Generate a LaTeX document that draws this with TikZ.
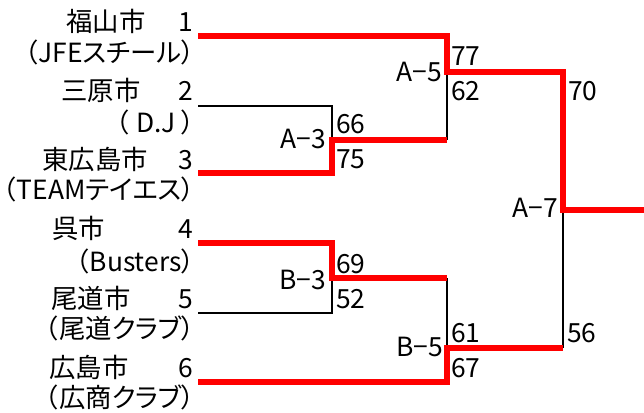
\documentclass[tikz,border=0pt]{standalone}
\usepackage{fontspec}
\setmainfont{Noto Sans CJK JP}[RawFeature=+palt]
\newfontfamily\fwfont{Noto Sans CJK JP}
\newcommand{\LPar}{{\fwfont （}}
\begin{document}
\begin{tikzpicture}[x=1bp,y=-1bp,
  lbl/.style={inner sep=0pt, font=\fontsize{26.5}{29}\selectfont},
  win/.style={draw=red, line width=6.5bp, line join=miter},
  lose/.style={draw=black, line width=2.5bp, line join=miter}]
\useasboundingbox (0,0) rectangle (644,412);
% team labels (y = baseline)
\node[lbl, anchor=base west] (n1) at (66,31) {福山市};
\node[lbl, anchor=base east] (k1) at (193,31) {1};
\node[lbl, anchor=base east] (c1) at (195,62) {\LPar JFEスチール）};
\node[lbl, anchor=base west] (n2) at (61,100) {三原市};
\node[lbl, anchor=base east] (k2) at (193,100) {2};
\node[lbl, anchor=base east] (c2) at (195,132) {\LPar{} D.J ）};
\node[lbl, anchor=base west] (n3) at (42,169) {東広島市};
\node[lbl, anchor=base east] (k3) at (193,169) {3};
\node[lbl, anchor=base east] (c3) at (195,199) {\LPar TEAMテイエス）};
\node[lbl, anchor=base west] (n4) at (52,238) {呉市};
\node[lbl, anchor=base east] (k4) at (193,238) {4};
\node[lbl, anchor=base east] (c4) at (195,271) {\LPar Busters）};
\node[lbl, anchor=base west] (n5) at (51,308) {尾道市};
\node[lbl, anchor=base east] (k5) at (193,308) {5};
\node[lbl, anchor=base east] (c5) at (195,338) {\LPar 尾道クラブ）};
\node[lbl, anchor=base west] (n6) at (49,377) {広島市};
\node[lbl, anchor=base east] (k6) at (193,377) {6};
\node[lbl, anchor=base east] (c6) at (195,407) {\LPar 広商クラブ）};
% bracket points
\coordinate (t1) at (198,36);
\coordinate (t2) at (198,106);
\coordinate (t3) at (198,173);
\coordinate (t4) at (198,243);
\coordinate (t5) at (198,313);
\coordinate (t6) at (198,382);
\coordinate (a3t) at (332,106);
\coordinate (a3m) at (332,140);
\coordinate (a3b) at (332,173);
\coordinate (b3t) at (332,243);
\coordinate (b3m) at (332,278);
\coordinate (b3b) at (332,313);
\coordinate (a5t) at (447,36);
\coordinate (a5m) at (447,72);
\coordinate (a5b) at (447,140);
\coordinate (b5t) at (447,278);
\coordinate (b5m) at (447,348);
\coordinate (b5b) at (447,382);
\coordinate (a7t) at (563,72);
\coordinate (a7m) at (563,210);
\coordinate (a7b) at (563,348);
\coordinate (fin) at (644,210);
% losing lines
\draw[lose] (t2) -- (a3t) -- (a3m);
\draw[lose] (a5m) -- (a5b);
\draw[lose] (t5) -- (b3b) -- (b3m);
\draw[lose] (b5t) -- (b5m);
\draw[lose] (a7m) -- (a7b);
% winning lines
\draw[win] (t1) -- (a5t) -- (a5m) -- (a7t) -- (a7m) -- (fin);
\draw[win] (t3) -- (a3b) -- (a3m) -- (a5b);
\draw[win] (t4) -- (b3t) -- (b3m) -- (b5t);
\draw[win] (t6) -- (b5b) -- (b5m) -- (a7b);
% match labels
\node[lbl, anchor=base east] (ma3) at (326,148) {A−3};
\node[lbl, anchor=base east] (mb3) at (326,289) {B−3};
\node[lbl, anchor=base east] (ma5) at (442,81) {A−5};
\node[lbl, anchor=base east] (mb5) at (443,356) {B−5};
\node[lbl, anchor=base east] (ma7) at (558,217) {A−7};
% scores
\node[lbl, anchor=base west] (s66) at (336,133) {66};
\node[lbl, anchor=base west] (s75) at (336,168) {75};
\node[lbl, anchor=base west] (s69) at (336,273) {69};
\node[lbl, anchor=base west] (s52) at (336,308) {52};
\node[lbl, anchor=base west] (s77) at (451,65) {77};
\node[lbl, anchor=base west] (s62) at (451,100) {62};
\node[lbl, anchor=base west] (s61) at (451,342) {61};
\node[lbl, anchor=base west] (s67) at (451,377) {67};
\node[lbl, anchor=base west] (s70) at (568,100) {70};
\node[lbl, anchor=base west] (s56) at (567,342) {56};
\end{tikzpicture}
\end{document}
